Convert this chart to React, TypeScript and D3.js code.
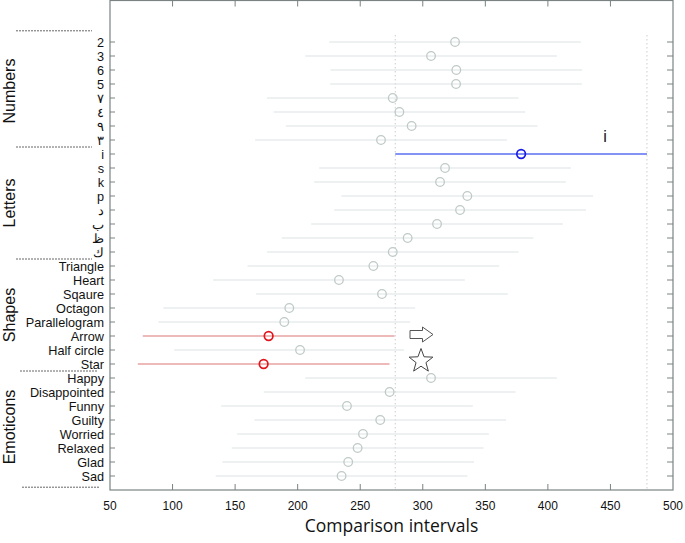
import React from "react";
import * as d3 from "d3";

const numbers = ["2", "3", "6", "5", "٧", "٤", "٩", "٣"];
const letters = ["i", "s", "k", "p", "د", "ب", "ظ", "ك"];
const shapes = ["Triangle", "Heart", "Sqaure", "Octagon", "Parallelogram", "Arrow", "Half circle", "Star"];
const emoticons = ["Happy", "Disappointed", "Funny", "Guilty", "Worried", "Relaxed", "Glad", "Sad"];

const numberMeans = [325.8, 306.6, 326.8, 326.6, 276.0, 281.3, 291.1, 266.6];
const letterMeans = [378.6, 317.8, 313.8, 335.6, 329.8, 311.4, 287.9, 276.0];
const shapeMeans = [260.5, 233.0, 267.4, 193.3, 189.3, 176.8, 201.9, 172.8];
const emoticonMeans = [306.6, 273.5, 239.4, 266.0, 252.2, 247.9, 240.4, 235.1];

const halfWidth = 100.6;

const groupNames = ["Numbers", "Letters", "Shapes", "Emoticons"];
const xTicks = [50, 100, 150, 200, 250, 300, 350, 400, 450, 500];

const selected = "i";
const significant = ["Arrow", "Star"];

const W = 685;
const H = 543;
const left = 110;
const right = 673;
const top = 0.5;
const bottom = 490;

export default function App() {
  const groups = [numbers, letters, shapes, emoticons];
  const meansByGroup = [numberMeans, letterMeans, shapeMeans, emoticonMeans];
  const labels = groups.flat();
  const means = meansByGroup.flat();
  const n = labels.length;

  const x = d3.scaleLinear().domain([50, 500]).range([left, right]);
  const y = d3.scaleLinear().domain([-3, n]).range([0, bottom]);

  const selIdx = labels.indexOf(selected);
  const selLo = means[selIdx] - halfWidth;
  const selHi = means[selIdx] + halfWidth;

  const axisColor = "#7a8282";
  const sepYs = [-0.8, 7.5, 15.5, 23.5, n - 0.2];
  const sepX = [[16, 92], [16, 92], [16, 92], [20, 97], [22, 99]];

  const rowStyle = (lab: string) => {
    if (lab === selected) return { line: "#5a6ef2", circ: "#1a1ae6", lw: 1.3, cw: 1.7 };
    if (significant.includes(lab)) return { line: "#e8a2a2", circ: "#e3141c", lw: 1.6, cw: 1.7 };
    return { line: "#dde4e4", circ: "#bfcac6", lw: 1.2, cw: 1.3 };
  };

  const starIdx = labels.indexOf("Star");
  const arrowIdx = labels.indexOf("Arrow");
  const starCx = 421;
  const starCy = y(starIdx) - 3;
  const starPts = d3.range(10).map((k) => {
    const r = k % 2 === 0 ? 12.5 : 5.2;
    const a = -Math.PI / 2 + (k * Math.PI) / 5;
    return [starCx + r * Math.cos(a), starCy + r * Math.sin(a)];
  });
  const ay = y(arrowIdx) - 1.5;
  const arrowPath = `M410,${ay - 4}H422.5V${ay - 7.5}L433,${ay}L422.5,${ay + 7.5}V${ay + 4}H410Z`;

  return (
    <svg width={W} height={H} style={{ position: "absolute", left: 0, top: 0, background: "#fff" }}
      fontFamily="'Liberation Sans', Arial, sans-serif">
      <rect x={0} y={0} width={W} height={H} fill="#fff" />
      {/* dotted reference lines */}
      {[selLo, selHi].map((v, i) => (
        <line key={"d" + i} x1={x(v)} x2={x(v)} y1={y(-0.5)} y2={bottom}
          stroke="#c8d0d0" strokeWidth={1} strokeDasharray="1.5,2.5" />
      ))}
      {/* intervals */}
      {labels.map((lab, i) => {
        const s = rowStyle(lab);
        return (
          <line key={"l" + i} x1={x(means[i] - halfWidth)} x2={x(means[i] + halfWidth)}
            y1={y(i)} y2={y(i)} stroke={s.line} strokeWidth={s.lw} />
        );
      })}
      {/* annotations */}
      <rect x={404} y={starCy - 14} width={36} height={27} fill="#fff" />
      <polygon points={starPts.map((p) => p.join(",")).join(" ")} fill="#fff" stroke="#444" strokeWidth={1} />
      <path d={arrowPath} fill="#fff" stroke="#555" strokeWidth={1} />
      <text x={605} y={y(selIdx) - 12.5} fontSize={16} textAnchor="middle" fill="#111">i</text>
      {/* means */}
      {labels.map((lab, i) => {
        const s = rowStyle(lab);
        return (
          <circle key={"c" + i} cx={x(means[i])} cy={y(i)} r={4.3} fill="none"
            stroke={s.circ} strokeWidth={s.cw} />
        );
      })}
      {/* frame */}
      <rect x={left} y={top} width={right - left} height={bottom - top} fill="none"
        stroke={axisColor} strokeWidth={1.2} />
      {xTicks.slice(1, -1).map((t) => (
        <g key={"xt" + t}>
          <line x1={x(t)} x2={x(t)} y1={bottom} y2={bottom - 6} stroke={axisColor} strokeWidth={1} />
          <line x1={x(t)} x2={x(t)} y1={top} y2={top + 6} stroke={axisColor} strokeWidth={1} />
        </g>
      ))}
      {xTicks.map((t) => (
        <text key={"xl" + t} x={x(t)} y={509.5} fontSize={12} textAnchor="middle" fill="#111">{t}</text>
      ))}
      {labels.map((lab, i) => (
        <g key={"yt" + i}>
          <line x1={left} x2={left + 5} y1={y(i)} y2={y(i)} stroke={axisColor} strokeWidth={1} />
          <line x1={right} x2={right - 6} y1={y(i)} y2={y(i)} stroke={axisColor} strokeWidth={1} />
          <text x={104} y={y(i)} dy="0.36em" fontSize={12.7} textAnchor="end" fill="#111">{lab}</text>
        </g>
      ))}
      {/* group separators */}
      {sepYs.map((v, i) => (
        <line key={"s" + i} x1={sepX[i][0]} x2={sepX[i][1]} y1={y(v)} y2={y(v)}
          stroke="#666" strokeWidth={1} strokeDasharray="2,1" />
      ))}
      {groupNames.map((g, gi) => {
        const cy = (y(gi * 8) + y(gi * 8 + 7)) / 2;
        return (
          <text key={"g" + gi} transform={`translate(15,${cy}) rotate(-90)`} fontSize={16}
            textAnchor="middle" fill="#111">{g}</text>
        );
      })}
      <text x={(left + right) / 2} y={532} fontSize={17.5} textAnchor="middle" fill="#111"
        fontFamily="'Open Sans', sans-serif">Comparison intervals</text>
    </svg>
  );
}
